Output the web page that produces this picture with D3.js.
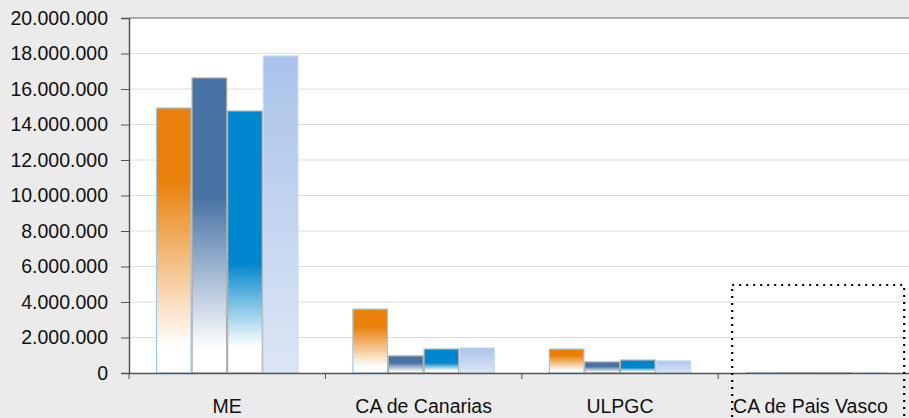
<!DOCTYPE html>
<html>
<head>
<meta charset="utf-8">
<script src="https://cdn.jsdelivr.net/npm/d3@7"></script>
<style>
  body { margin: 0; background: #ebebeb; }
  svg { display: block; }
  .tick text { font-family: "Liberation Sans", Arial, sans-serif; fill: #111; }
</style>
</head>
<body>
<div id="chart"></div>
<script>
// categories and series
var categories = ["ME", "CA de Canarias", "ULPGC", "CA de Pais Vasco"];
var seriesA = [14930000, 3600000, 1350000, 15000];
var seriesB = [16620000, 960000, 620000, 10000];
var seriesC = [14760000, 1350000, 730000, 10000];
var seriesD = [17860000, 1410000, 680000, 10000];
var yTicks = [0, 2000000, 4000000, 6000000, 8000000, 10000000, 12000000, 14000000, 16000000, 18000000, 20000000];

var series = [
  { key: "a", values: seriesA, color: "#e8800a", stroke: "#9cc8e8", solid: 0.27, fade: 0.9 },
  { key: "b", values: seriesB, color: "#4672a4", stroke: "#a8a8a8", solid: 0.40, fade: 0.92 },
  { key: "c", values: seriesC, color: "#0086cc", stroke: "#b0b0b0", solid: 0.58, fade: 0.9 },
  { key: "d", values: seriesD, color: "#aac4ea", stroke: "#c8d8f0", solid: 0, fade: 1 }
];

var width = 909, height = 418;
var marginLeft = 129, plotTop = 18, plotBottom = 373, bandW = 196.4;

var svg = d3.select("#chart").append("svg")
  .attr("width", width)
  .attr("height", height);

var defs = svg.append("defs");
series.forEach(function(s) {
  var g = defs.append("linearGradient")
    .attr("id", "grad-" + s.key)
    .attr("x1", 0).attr("y1", 0).attr("x2", 0).attr("y2", 1);
  if (s.key === "d") {
    g.append("stop").attr("offset", 0).attr("stop-color", "#a9c3ea");
    g.append("stop").attr("offset", 1).attr("stop-color", "#dde6f5");
  } else {
    g.append("stop").attr("offset", 0).attr("stop-color", s.color);
    g.append("stop").attr("offset", s.solid).attr("stop-color", s.color);
    g.append("stop").attr("offset", s.fade).attr("stop-color", "#ffffff");
    g.append("stop").attr("offset", 1).attr("stop-color", "#ffffff");
  }
});

var x = d3.scaleBand()
  .domain(categories)
  .range([marginLeft, marginLeft + bandW * categories.length])
  .paddingInner(0)
  .paddingOuter(0);

var x1 = d3.scaleBand()
  .domain(series.map(function(s) { return s.key; }))
  .range([27, bandW - 27])
  .padding(0);

var y = d3.scaleLinear()
  .domain([0, 20000000])
  .range([plotBottom, plotTop]);

// plot area
svg.append("rect")
  .attr("x", marginLeft)
  .attr("y", plotTop)
  .attr("width", width - marginLeft)
  .attr("height", plotBottom - plotTop)
  .attr("fill", "#ffffff");

// grid lines
svg.append("g")
  .selectAll("line")
  .data(yTicks.slice(1, -1))
  .enter().append("line")
    .attr("x1", marginLeft)
    .attr("x2", width)
    .attr("y1", function(d) { return y(d); })
    .attr("y2", function(d) { return y(d); })
    .attr("stroke", "#dedede")
    .attr("stroke-width", 1);

// bars
var groups = svg.append("g")
  .selectAll("g")
  .data(categories)
  .enter().append("g")
    .attr("transform", function(d) { return "translate(" + x(d) + ",0)"; });

groups.selectAll("rect")
  .data(function(d, i) {
    return series.map(function(s) { return { key: s.key, value: s.values[i], stroke: s.stroke }; });
  })
  .enter().append("rect")
    .attr("x", function(d) { return x1(d.key) + 0.5; })
    .attr("y", function(d) { return y(d.value); })
    .attr("width", x1.bandwidth() - 1)
    .attr("height", function(d) { return plotBottom - y(d.value); })
    .attr("fill", function(d) { return "url(#grad-" + d.key + ")"; })
    .attr("stroke", function(d) { return d.stroke; })
    .attr("stroke-width", 1.2);

// y axis
var yAxis = d3.axisLeft(y)
  .tickValues(yTicks)
  .tickSize(8)
  .tickPadding(13)
  .tickFormat(function(d) { return d3.format(",")(d).replace(/,/g, "."); });

var yG = svg.append("g")
  .attr("transform", "translate(" + marginLeft + ",0)")
  .call(yAxis);
yG.select(".domain").attr("stroke", "#555").attr("stroke-width", 1.5);
yG.selectAll(".tick line").attr("stroke", "#555");
yG.selectAll(".tick text").attr("font-size", 19.5);

// top frame line
svg.append("line")
  .attr("x1", marginLeft).attr("x2", width)
  .attr("y1", plotTop).attr("y2", plotTop)
  .attr("stroke", "#666")
  .attr("stroke-width", 1.2);

// x axis
var xAxis = d3.axisBottom(x)
  .tickSize(0)
  .tickPadding(26);

var xG = svg.append("g")
  .attr("transform", "translate(0," + plotBottom + ")")
  .call(xAxis);
xG.select(".domain").attr("stroke", "#555").attr("stroke-width", 1.5);
xG.selectAll(".tick text").attr("font-size", 19.5);
// last label sits a little left of its band centre in the original
xG.selectAll(".tick text")
  .filter(function(d) { return d === categories[categories.length - 1]; })
  .attr("dx", -6);

// band separators below the axis
svg.append("g")
  .selectAll("line")
  .data(categories)
  .enter().append("line")
    .attr("x1", function(d) { return x(d); })
    .attr("x2", function(d) { return x(d); })
    .attr("y1", plotBottom)
    .attr("y2", plotBottom + 6)
    .attr("stroke", "#555")
    .attr("stroke-width", 1);

// dotted selection box around the last category
var last = categories[categories.length - 1];
svg.append("rect")
  .attr("x", x(last) + 14)
  .attr("y", 285)
  .attr("width", 172)
  .attr("height", 160)
  .attr("fill", "none")
  .attr("stroke", "#000")
  .attr("stroke-width", 2.2)
  .attr("stroke-dasharray", "2,5");
</script>
</body>
</html>
